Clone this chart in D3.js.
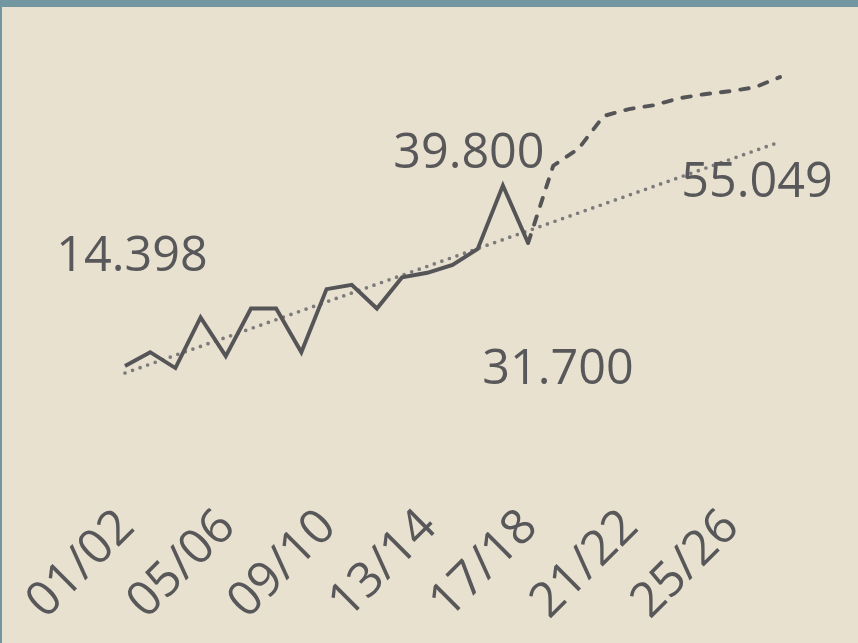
<!DOCTYPE html>
<html>
<head>
<meta charset="utf-8">
<script src="https://cdn.jsdelivr.net/npm/d3@7"></script>
<style>
  body { margin: 0; background: #e9e1cf; }
  svg { display: block; }
  text { font-family: "Open Sans", "Noto Sans", sans-serif; fill: #58585a; }
</style>
</head>
<body>
<div class="chart"></div>
<script>
var seasons = ["01/02", "02/03", "03/04", "04/05", "05/06", "06/07", "07/08", "08/09", "09/10",
    "10/11", "11/12", "12/13", "13/14", "14/15", "15/16", "16/17", "17/18", "18/19", "19/20",
    "20/21", "21/22", "22/23", "23/24", "24/25", "25/26", "26/27", "27/28"];

// actual values (solid), up to 17/18
var actual = [14.398, 16.35, 14.12, 21.24, 15.79, 22.49, 22.49, 16.35, 25.22, 25.84, 22.49,
    26.89, 27.52, 28.63, 30.87, 39.8, 31.7];

// forecast (dashed), from 17/18 on
var forecast = [31.7, 42.59, 44.96, 49.57, 50.55, 51.1, 52.08, 52.64, 53.06, 53.61, 55.049];

// trend line, first and last season
var trend = [13.42, 45.94];

var tickLabels = ["01/02", "05/06", "09/10", "13/14", "17/18", "21/22", "25/26"];

var valueLabels = ["14.398", "39.800", "31.700", "55.049"];
var labelSeason = ["01/02", "16/17", "17/18", "27/28"];
var labelValue = [14.398, 39.8, 31.7, 55.049];

var svg_width = 858, svg_height = 643;

var svg = d3.select(".chart")
    .append("svg")
    .attr("width", svg_width)
    .attr("height", svg_height);

svg.append("rect")
    .attr("width", svg_width)
    .attr("height", svg_height)
    .attr("fill", "#e9e1cf");

// frame
svg.append("rect")
    .attr("x", 0).attr("y", 0)
    .attr("width", svg_width).attr("height", 7)
    .attr("fill", "#7397a0");
svg.append("rect")
    .attr("x", 0).attr("y", 0)
    .attr("width", 2).attr("height", svg_height)
    .attr("fill", "#7397a0");

var xScale = d3.scalePoint()
    .domain(seasons)
    .range([125, 780]);

var yScale = d3.scaleLinear()
    .domain([0, 60])
    .range([468.4, 41.9]);

var line = d3.line()
    .x(function (d) { return xScale(d.s); })
    .y(function (d) { return yScale(d.v); });

var actualData = actual.map(function (v, i) { return {s: seasons[i], v: v}; });
var forecastData = forecast.map(function (v, i) { return {s: seasons[actual.length - 1 + i], v: v}; });
var trendData = [{s: seasons[0], v: trend[0]}, {s: seasons[seasons.length - 1], v: trend[1]}];

svg.append("path")
    .datum(trendData)
    .attr("d", line)
    .attr("fill", "none")
    .attr("stroke", "#7b7b7b")
    .attr("stroke-width", 3.7)
    .attr("stroke-linecap", "round")
    .attr("stroke-dasharray", "0,8");

svg.append("path")
    .datum(actualData)
    .attr("d", line)
    .attr("fill", "none")
    .attr("stroke", "#555557")
    .attr("stroke-width", 3.9)
    .attr("stroke-linejoin", "miter");

svg.append("path")
    .datum(forecastData)
    .attr("d", line)
    .attr("fill", "none")
    .attr("stroke", "#555557")
    .attr("stroke-width", 3.9)
    .attr("stroke-linecap", "round")
    .attr("stroke-dasharray", "8.5,11");

// x axis, labels only
var xAxis = svg.append("g")
    .attr("transform", "translate(0,529)")
    .call(d3.axisBottom(xScale).tickValues(tickLabels).tickSize(0));
xAxis.select(".domain").remove();
xAxis.selectAll("text")
    .attr("font-size", 48.5)
    .attr("fill", "#58585a")
    .style("text-anchor", "end")
    .attr("dy", 0)
    .attr("y", 0)
    .attr("x", 0)
    .attr("transform", "translate(11,0) rotate(-45)");

// data labels
var labelOffset = [[7, -95], [-34, -17], [30, 141], [-23, 120]];
svg.selectAll(".vlabel")
    .data(valueLabels)
    .enter()
    .append("text")
    .attr("class", "vlabel")
    .attr("font-size", 48.5)
    .attr("text-anchor", "middle")
    .attr("x", function (d, i) { return xScale(labelSeason[i]) + labelOffset[i][0]; })
    .attr("y", function (d, i) { return yScale(labelValue[i]) + labelOffset[i][1]; })
    .text(function (d) { return d; });
</script>
</body>
</html>
